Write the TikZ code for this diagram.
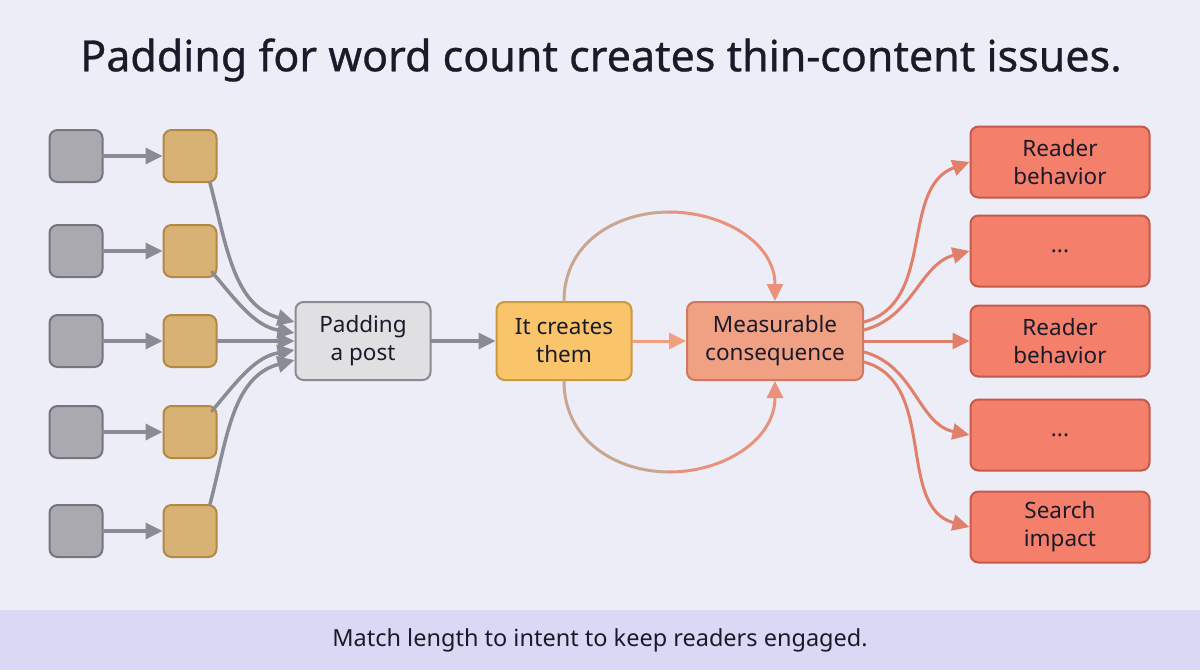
\documentclass[tikz,border=0pt]{standalone}
\usepackage{fontspec}
\setmainfont{Noto Sans}
\usetikzlibrary{arrows.meta,positioning}
\definecolor{bgcol}{HTML}{EDEDF8}
\definecolor{bandcol}{HTML}{D9D9F5}
\definecolor{inkcol}{HTML}{1A1A2A}
\definecolor{srcfill}{HTML}{A9A9AF}
\definecolor{srcline}{HTML}{75757E}
\definecolor{tanfill}{HTML}{D8B274}
\definecolor{tanline}{HTML}{B38843}
\definecolor{padfill}{HTML}{E0E0E3}
\definecolor{padline}{HTML}{8A8A92}
\definecolor{makefill}{HTML}{FAC46B}
\definecolor{makeline}{HTML}{C99A3E}
\definecolor{measfill}{HTML}{F0A184}
\definecolor{measline}{HTML}{CE7860}
\definecolor{outfill}{HTML}{F47F6A}
\definecolor{outline}{HTML}{C65A4A}
\definecolor{grayarr}{HTML}{8B8B96}
\definecolor{peacharr}{HTML}{EFA07F}
\definecolor{loopa}{HTML}{C8A68F}
\definecolor{loopb}{HTML}{E9927B}
\definecolor{redarr}{HTML}{E07F6A}
\tikzset{
  srcnode/.style={rectangle,rounded corners=8pt,draw=srcline,fill=srcfill,line width=2pt,minimum width=53pt,minimum height=52pt,inner sep=0pt},
  tannode/.style={srcnode,draw=tanline,fill=tanfill},
  midnode/.style={rectangle,rounded corners=8pt,line width=2pt,minimum width=135pt,minimum height=78pt,inner sep=0pt,align=center,text=inkcol,font=\fontsize{22.5}{28}\selectfont},
  outnode/.style={midnode,draw=outline,fill=outfill,minimum width=179pt,minimum height=71pt},
  grayline/.style={draw=grayarr,line width=3.5pt,-{Triangle[length=17pt,width=16pt]}},
  redline/.style={draw=redarr,line width=3pt,-{Triangle[length=17pt,width=16pt]}},
  loopline/.style={line width=3pt},
  every picture/.style={line cap=round,line join=round}
}

\begin{document}
\begin{tikzpicture}[x=1pt,y=1pt]
  % background and band
  \fill[bgcol] (0,0) rectangle (1200,-670);
  \fill[bandcol] (0,-610) rectangle (1200,-670);
  \useasboundingbox (0,0) rectangle (1200,-670);

  \node[text=inkcol,font=\fontsize{43}{50}\selectfont\addfontfeatures{FakeBold=0.7}] (title) at (601,-60) {Padding for word count creates thin-content issues.};
  \node[text=inkcol,font=\fontsize{23.5}{28}\selectfont] (note) at (600,-640) {Match length to intent to keep readers engaged.};

  % left column
  \foreach \i/\y in {1/156,2/251,3/341,4/432,5/531} {
    \node[srcnode] (s\i) at (76,-\y) {};
    \node[tannode] (t\i) at (190,-\y) {};
    \draw[grayline] (s\i) -- (t\i);
  }

  \node[midnode,draw=padline,fill=padfill] (pad) at (363,-341) {Padding\\a post};
  \node[midnode,draw=makeline,fill=makefill] (make) at (564,-341) {It creates\\them};
  \node[midnode,draw=measline,fill=measfill,minimum width=176pt] (meas) at (775,-341) {Measurable\\consequence};

  % fan into padding
  \draw[grayline] ([xshift=20pt]t1.south) to[out=-75,in=165] ([yshift=19pt]pad.west);
  \draw[grayline] ([xshift=22pt,yshift=6pt]t2.south) to[out=-50,in=170] ([yshift=8pt]pad.west);
  \draw[grayline] (t3) -- (pad);
  \draw[grayline] ([xshift=22pt,yshift=-6pt]t4.north) to[out=50,in=190] ([yshift=-9pt]pad.west);
  \draw[grayline] ([xshift=20pt]t5.north) to[out=75,in=195] ([yshift=-19pt]pad.west);

  \draw[grayline] (pad) -- (make);
  \draw[draw=peacharr,line width=3pt,-{Triangle[length=17pt,width=16pt]}] (make) -- (meas);

  % loops over and under, fading from tan to salmon
  \coordinate (topmid) at (669.5,-212);
  \coordinate (botmid) at (669.5,-472);
  \draw[loopline,draw=loopa] (make.north) .. controls (564,-242) and (617,-212) .. (topmid);
  \draw[loopline,draw=loopb,-{Triangle[length=17pt,width=16pt]}] (topmid) .. controls (722,-212) and (775,-242) .. (meas.north);
  \draw[loopline,draw=loopa] (make.south) .. controls (564,-441) and (617,-472) .. (botmid);
  \draw[loopline,draw=loopb,-{Triangle[length=17pt,width=16pt]}] (botmid) .. controls (722,-472) and (775,-441) .. (meas.south);

  % right column
  \node[outnode] (o1) at (1060,-162) {Reader\\behavior};
  \node[outnode] (o2) at (1060,-251) {...};
  \node[outnode] (o3) at (1060,-341) {Reader\\behavior};
  \node[outnode] (o4) at (1060,-435) {...};
  \node[outnode] (o5) at (1060,-527) {Search\\impact};

  \draw[redline] ([yshift=19pt]meas.east) to[out=15,in=200] (o1.west);
  \draw[redline] ([yshift=11pt]meas.east) to[out=15,in=195] (o2.west);
  \draw[redline] (meas) -- (o3);
  \draw[redline] ([yshift=-11pt]meas.east) to[out=-15,in=168] (o4.west);
  \draw[redline] ([yshift=-21pt]meas.east) to[out=-15,in=165] (o5.west);
\end{tikzpicture}
\end{document}
